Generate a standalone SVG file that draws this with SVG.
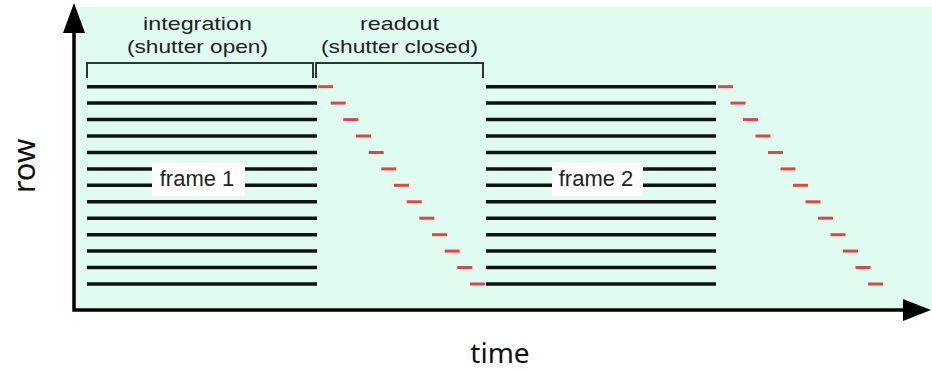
<svg xmlns="http://www.w3.org/2000/svg" width="932" height="372" viewBox="0 0 932 372">
  <style>
    .row { stroke: #111; stroke-width: 3.5; }
    .rd { stroke: #e0453f; stroke-width: 3; }
    .axis { stroke: #000; stroke-width: 3.5; fill: none; }
    .head { fill: #000; }
    .brk { stroke: #333; stroke-width: 2; fill: none; }
    .lbl { font-family: "Liberation Sans", Arial, sans-serif; fill: #222; text-anchor: middle; }
    .ax { font-family: "Noto Sans", "Open Sans", sans-serif; fill: #111; text-anchor: middle; }
  </style>
  <defs>
    <g id="rows">
      <line class="row" x1="0" y1="86.7" x2="230" y2="86.7"/>
      <line class="row" x1="0" y1="103.1" x2="230" y2="103.1"/>
      <line class="row" x1="0" y1="119.6" x2="230" y2="119.6"/>
      <line class="row" x1="0" y1="136.0" x2="230" y2="136.0"/>
      <line class="row" x1="0" y1="152.5" x2="230" y2="152.5"/>
      <line class="row" x1="0" y1="168.9" x2="230" y2="168.9"/>
      <line class="row" x1="0" y1="185.3" x2="230" y2="185.3"/>
      <line class="row" x1="0" y1="201.8" x2="230" y2="201.8"/>
      <line class="row" x1="0" y1="218.2" x2="230" y2="218.2"/>
      <line class="row" x1="0" y1="234.7" x2="230" y2="234.7"/>
      <line class="row" x1="0" y1="251.1" x2="230" y2="251.1"/>
      <line class="row" x1="0" y1="267.5" x2="230" y2="267.5"/>
      <line class="row" x1="0" y1="284.0" x2="230" y2="284.0"/>
    </g>
  </defs>

  <!-- plot background -->
  <rect x="0" y="0" width="932" height="372" fill="#fff"/>
  <rect x="74" y="7" width="858" height="303" fill="#e0fcf0"/>

  <!-- frame 1 -->
  <g id="frame1">
    <use href="#rows" x="87"/>
    <rect x="152" y="162" width="93" height="34" fill="#fff"/>
    <text class="lbl" x="197" y="186" font-size="22">frame 1</text>
  </g>

  <!-- readout 1 -->
  <g id="readout1">
    <line class="rd" x1="318" y1="86.7" x2="333" y2="86.7"/>
    <line class="rd" x1="330.7" y1="103.1" x2="345.7" y2="103.1"/>
    <line class="rd" x1="343.3" y1="119.6" x2="358.3" y2="119.6"/>
    <line class="rd" x1="356" y1="136.0" x2="371" y2="136.0"/>
    <line class="rd" x1="368.7" y1="152.5" x2="383.7" y2="152.5"/>
    <line class="rd" x1="381.3" y1="168.9" x2="396.3" y2="168.9"/>
    <line class="rd" x1="394" y1="185.3" x2="409" y2="185.3"/>
    <line class="rd" x1="406.7" y1="201.8" x2="421.7" y2="201.8"/>
    <line class="rd" x1="419.3" y1="218.2" x2="434.3" y2="218.2"/>
    <line class="rd" x1="432" y1="234.7" x2="447" y2="234.7"/>
    <line class="rd" x1="444.7" y1="251.1" x2="459.7" y2="251.1"/>
    <line class="rd" x1="457.3" y1="267.5" x2="472.3" y2="267.5"/>
    <line class="rd" x1="470" y1="284.0" x2="485" y2="284.0"/>
  </g>

  <!-- frame 2 -->
  <g id="frame2">
    <use href="#rows" x="486"/>
    <rect x="552" y="162" width="91" height="34" fill="#fff"/>
    <text class="lbl" x="596" y="186" font-size="22">frame 2</text>
  </g>

  <!-- readout 2 -->
  <g id="readout2">
    <line class="rd" x1="718" y1="86.7" x2="733" y2="86.7"/>
    <line class="rd" x1="730.5" y1="103.1" x2="745.5" y2="103.1"/>
    <line class="rd" x1="743" y1="119.6" x2="758" y2="119.6"/>
    <line class="rd" x1="755.5" y1="136.0" x2="770.5" y2="136.0"/>
    <line class="rd" x1="768" y1="152.5" x2="783" y2="152.5"/>
    <line class="rd" x1="780.5" y1="168.9" x2="795.5" y2="168.9"/>
    <line class="rd" x1="793" y1="185.3" x2="808" y2="185.3"/>
    <line class="rd" x1="805.5" y1="201.8" x2="820.5" y2="201.8"/>
    <line class="rd" x1="818" y1="218.2" x2="833" y2="218.2"/>
    <line class="rd" x1="830.5" y1="234.7" x2="845.5" y2="234.7"/>
    <line class="rd" x1="843" y1="251.1" x2="858" y2="251.1"/>
    <line class="rd" x1="855.5" y1="267.5" x2="870.5" y2="267.5"/>
    <line class="rd" x1="868" y1="284.0" x2="883" y2="284.0"/>
  </g>

  <!-- phase brackets and captions -->
  <g id="integration">
    <path class="brk" d="M87 78 V63 H313 V78"/>
    <text class="lbl" x="197.5" y="30" font-size="19" textLength="109" lengthAdjust="spacingAndGlyphs">integration</text>
    <text class="lbl" x="197.5" y="53" font-size="19" textLength="141" lengthAdjust="spacingAndGlyphs">(shutter open)</text>
  </g>
  <g id="readout">
    <path class="brk" d="M316 78 V63 H483 V78"/>
    <text class="lbl" x="399.5" y="30" font-size="19" textLength="79" lengthAdjust="spacingAndGlyphs">readout</text>
    <text class="lbl" x="399.5" y="53" font-size="19" textLength="157" lengthAdjust="spacingAndGlyphs">(shutter closed)</text>
  </g>

  <!-- axes -->
  <g id="axes">
    <path class="axis" d="M74 30 V310 H905"/>
    <polygon class="head" points="74,3 63,33 85,33"/>
    <polygon class="head" points="931,310 903,299 903,321"/>
    <text class="ax" x="500" y="363" font-size="28">time</text>
    <text class="ax" transform="translate(35 166) rotate(-90)" x="0" y="0" font-size="31">row</text>
  </g>
</svg>
